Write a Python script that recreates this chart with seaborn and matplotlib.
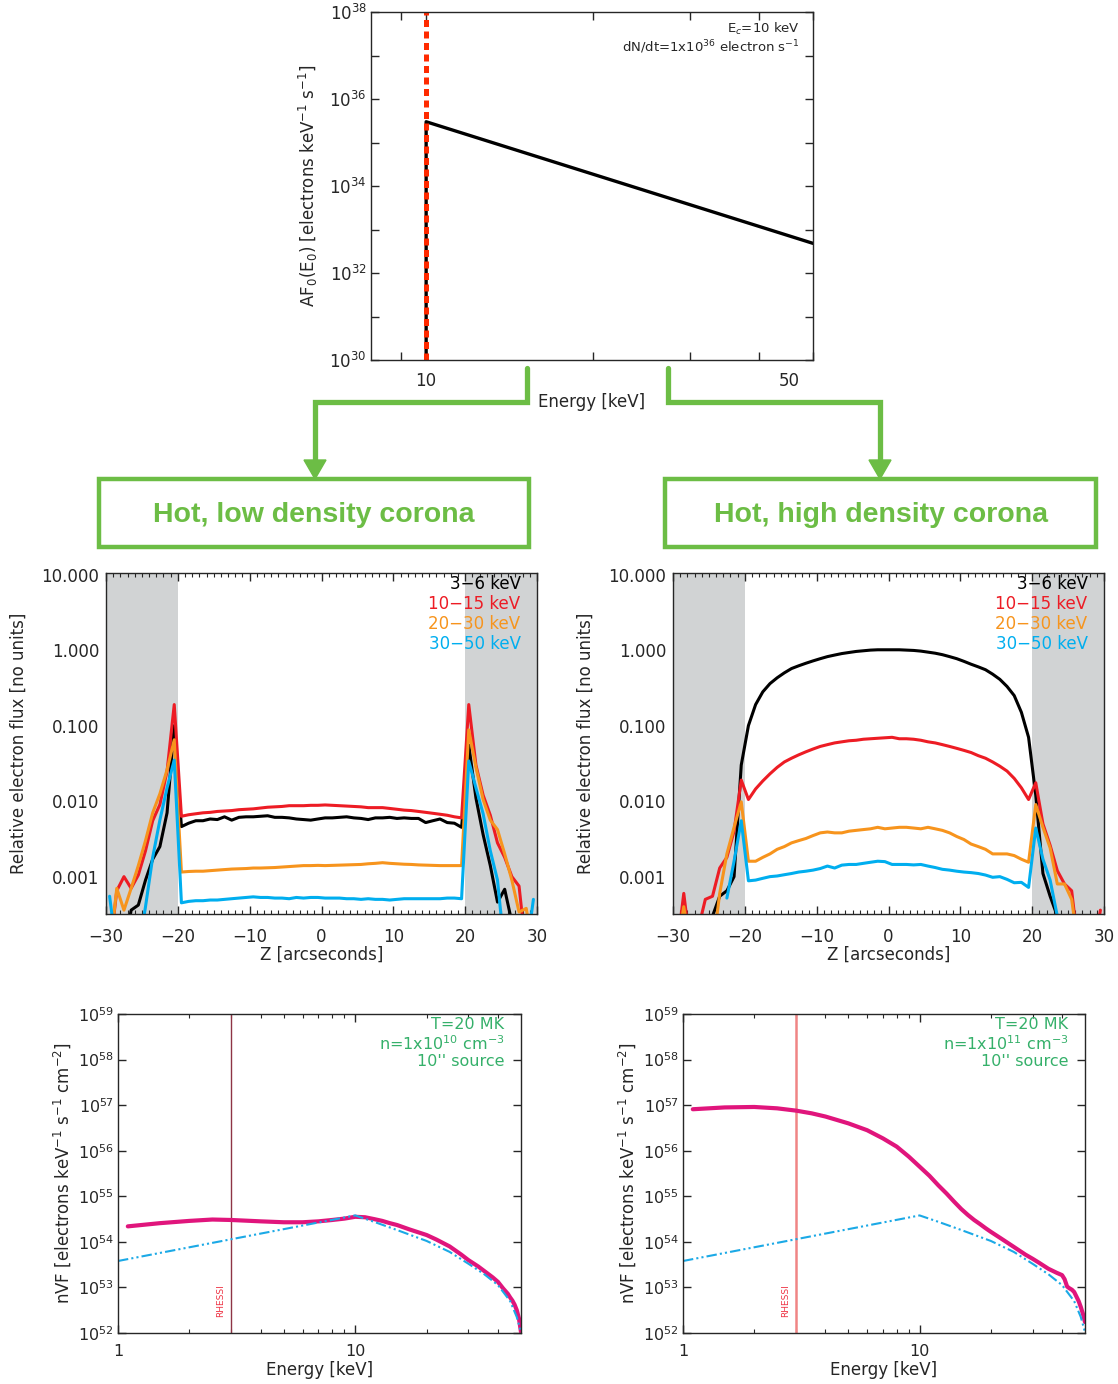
import numpy as np
import seaborn as sns
import matplotlib.pyplot as plt
from matplotlib.lines import Line2D
from matplotlib.patches import Rectangle, Polygon
from matplotlib.transforms import ScaledTranslation
from matplotlib.ticker import FixedLocator, NullFormatter, NullLocator, MultipleLocator

W, H = 1118, 1384

# ---- top panel: injected electron spectrum ----
inj_energy = [10, 10, 50]
inj_flux = [1e30, 3.0e35, 4.8e32]
cutoff_energy = [10, 10]
cutoff_flux = [1e30, 1e38]

# ---- middle panels: relative electron flux vs Z ----
z_arcsec = np.arange(-29.5, 30, 1.0)
nan = np.nan

low_3_6 = ([1e-4, 1e-4, 1e-4, 3.6e-4, 4.2e-4, 9e-4, 1.7e-3, 2.5e-3, 7e-3, 0.1]
           + [.0046, .0051, .0055, .0055, .0058, .0057, .0062, .0056, .0061, .0062,
              .0062, .0063, .0064, .0061, .0061, .0060, .0058, .0057, .0056, .0058,
              .0060, .0060, .0061, .0062, .0060, .0059, .0057, .0060, .0060, .0061,
              .0059, .0060, .0059, .0059, .0052, .0055, .0058, .0052, .0051, .0045]
           + [0.055, 0.011, 0.0036, 0.0014, 4.6e-4, 6.8e-4, 2.5e-4, 1e-4, 1e-4, 1e-4])
low_10_15 = ([1e-4, 6.5e-4, 1.0e-3, 7e-4, 1.05e-3, 2.2e-3, 5.5e-3, 9e-3, 0.025, 0.19]
             + [.0063, .0066, .0068, .0070, .0071, .0073, .0074, .0075, .0077, .0078,
                .0079, .0081, .0083, .0084, .0085, .0087, .0087, .0087, .0088, .0088,
                .0089, .0088, .0087, .0086, .0085, .0084, .0082, .0082, .0082, .0080,
                .0078, .0076, .0075, .0073, .0071, .0069, .0067, .0065, .0062, .0060]
             + [0.19, 0.03, 0.012, 0.0065, 0.0028, 0.0018, 0.001, 7.5e-4, 1e-4, 1e-4])
low_20_30 = ([1e-4, 7e-4, 3.6e-4, 7e-4, 1.4e-3, 3e-3, 7e-3, 0.0125, 0.026, 0.065]
             + [1.15e-3, 1.17e-3, 1.18e-3, 1.18e-3, 1.20e-3, 1.22e-3, 1.24e-3, 1.26e-3, 1.27e-3, 1.28e-3,
                1.30e-3, 1.30e-3, 1.31e-3, 1.32e-3, 1.34e-3, 1.36e-3, 1.38e-3, 1.40e-3, 1.40e-3, 1.41e-3,
                1.40e-3, 1.41e-3, 1.42e-3, 1.43e-3, 1.44e-3, 1.45e-3, 1.48e-3, 1.50e-3, 1.53e-3, 1.50e-3,
                1.48e-3, 1.46e-3, 1.45e-3, 1.43e-3, 1.42e-3, 1.41e-3, 1.40e-3, 1.40e-3, 1.40e-3, 1.40e-3]
             + [0.088, 0.028, 0.0105, 0.0056, 0.0042, 0.002, 9e-4, 3.4e-4, 3.8e-4, 1e-4])
low_30_50 = ([5.5e-4, 1e-4, 1e-4, 1e-4, 1e-4, 4e-4, 1.8e-3, 5.6e-3, 0.015, 0.035]
             + [4.5e-4, 4.7e-4, 4.8e-4, 4.8e-4, 4.9e-4, 4.9e-4, 5.0e-4, 5.1e-4, 5.2e-4, 5.3e-4,
                5.4e-4, 5.3e-4, 5.3e-4, 5.2e-4, 5.2e-4, 5.1e-4, 5.3e-4, 5.2e-4, 5.3e-4, 5.3e-4,
                5.2e-4, 5.2e-4, 5.2e-4, 5.1e-4, 5.1e-4, 5.0e-4, 5.1e-4, 5.0e-4, 5.0e-4, 4.9e-4,
                5.0e-4, 5.1e-4, 5.1e-4, 5.1e-4, 5.1e-4, 5.1e-4, 5.1e-4, 5.2e-4, 5.2e-4, 5.1e-4]
             + [0.034, 0.015, 0.0068, 0.0022, 9e-4, 1e-4, 1e-4, 1e-4, 1e-4, 5e-4])

high_3_6 = ([1e-4, 1e-4, 1e-4, 1e-4, 1e-4, 3e-4, 5.5e-4, 6.5e-4, 1e-3, 0.03]
            + [0.10, 0.19, 0.28, 0.36, 0.43, 0.50, 0.57, 0.62, 0.67, 0.72,
               0.77, 0.82, 0.86, 0.90, 0.93, 0.96, 0.98, 1.00, 1.01, 1.01,
               1.01, 1.01, 1.00, 0.99, 0.97, 0.94, 0.91, 0.87, 0.82, 0.77,
               0.71, 0.65, 0.60, 0.55, 0.48, 0.41, 0.33, 0.25, 0.15, 0.07]
            + [0.012, 1.1e-3, 5.5e-4, 3e-4, 1e-4, 1e-4, 1e-4, 1e-4, 1e-4, 1e-4])
high_10_15 = ([1e-4, 6e-4, 1e-4, 2e-4, 5e-4, 5.5e-4, 1.3e-3, 1.8e-3, 4e-3, 0.019]
              + [0.0105, 0.0145, 0.0185, 0.023, 0.028, 0.033, 0.037, 0.041, 0.045, 0.049,
                 0.053, 0.056, 0.059, 0.061, 0.063, 0.064, 0.066, 0.067, 0.068, 0.069,
                 0.070, 0.067, 0.067, 0.066, 0.064, 0.061, 0.059, 0.056, 0.053, 0.050,
                 0.047, 0.044, 0.040, 0.037, 0.033, 0.029, 0.025, 0.020, 0.015, 0.0105]
              + [0.0175, 5e-3, 2.6e-3, 1.2e-3, 8e-4, 6.5e-4, 1e-4, 1e-4, 1e-4, 3.6e-4])
high_20_30 = ([1e-4, 4e-4, 1e-4, 1e-4, 1e-4, 1e-4, 6e-4, 2e-3, 4.5e-3, 0.0098]
              + [1.6e-3, 1.6e-3, 1.8e-3, 2.0e-3, 2.3e-3, 2.5e-3, 2.8e-3, 3.0e-3, 3.2e-3, 3.5e-3,
                 3.8e-3, 3.9e-3, 3.8e-3, 3.8e-3, 4.0e-3, 4.1e-3, 4.2e-3, 4.3e-3, 4.5e-3, 4.3e-3,
                 4.4e-3, 4.5e-3, 4.5e-3, 4.4e-3, 4.3e-3, 4.5e-3, 4.3e-3, 4.1e-3, 3.8e-3, 3.4e-3,
                 3.1e-3, 2.7e-3, 2.5e-3, 2.3e-3, 2.0e-3, 2.0e-3, 2.0e-3, 1.9e-3, 1.7e-3, 1.55e-3]
              + [9e-3, 4.5e-3, 2.4e-3, 8e-4, 8e-4, 5e-4, 1e-4, 1e-4, 1e-4, 1e-4])
high_30_50 = ([nan, nan, nan, nan, nan, nan, nan, 5.2e-4, 1.6e-3, 5.5e-3]
              + [8.8e-4, 9.0e-4, 9.5e-4, 1.0e-3, 1.02e-3, 1.06e-3, 1.1e-3, 1.15e-3, 1.18e-3, 1.22e-3,
                 1.28e-3, 1.38e-3, 1.3e-3, 1.42e-3, 1.45e-3, 1.45e-3, 1.5e-3, 1.55e-3, 1.6e-3, 1.58e-3,
                 1.45e-3, 1.45e-3, 1.45e-3, 1.43e-3, 1.45e-3, 1.38e-3, 1.32e-3, 1.25e-3, 1.22e-3, 1.18e-3,
                 1.15e-3, 1.13e-3, 1.1e-3, 1.05e-3, 9.8e-4, 1.0e-3, 9.2e-4, 8.3e-4, 8.4e-4, 7.2e-4]
              + [4.4e-3, 1.7e-3, 9e-4, 3e-4, 1e-4, nan, nan, nan, nan, nan])

band_labels = ['3\u22126 keV', '10\u221215 keV', '20\u221230 keV', '30\u221250 keV']
band_colors = ['black', '#ED1C24', '#F7941D', '#00AEEF']

# ---- bottom panels: nVF spectra (log10 values) ----
low_tot_energy = [1.1, 1.5, 2, 2.5, 3, 4, 5, 6, 7, 8, 9, 10, 11, 12, 13, 14, 15, 17, 20, 22, 25,
                  28, 30, 33, 35, 38, 40, 42, 44, 45, 46, 47, 48, 49, 50]
low_tot_log = [54.34, 54.41, 54.46, 54.49, 54.48, 54.45, 54.43, 54.43, 54.45, 54.48, 54.51, 54.55,
               54.54, 54.50, 54.46, 54.41, 54.37, 54.27, 54.15, 54.05, 53.90,
               53.72, 53.60, 53.46, 53.36, 53.22, 53.12, 52.98, 52.86, 52.78, 52.71, 52.62, 52.50,
               52.32, 52.02]
high_tot_energy = [1.1, 1.5, 2, 2.5, 3, 3.5, 4, 5, 6, 7, 8, 9, 10, 11, 12, 13, 14, 15, 16, 17, 18,
                   19, 20, 22, 25, 28, 30, 32, 35, 38, 40, 41, 42, 43, 44, 45, 46, 47, 48, 49, 50]
high_tot_log = [56.91, 56.95, 56.96, 56.93, 56.88, 56.82, 56.75, 56.60, 56.45, 56.27, 56.09, 55.87,
                55.65, 55.45, 55.24, 55.06, 54.88, 54.72, 54.59, 54.48, 54.39,
                54.30, 54.22, 54.08, 53.89, 53.72, 53.63, 53.54, 53.41, 53.32, 53.27, 53.18, 53.02,
                52.98, 52.95, 52.90, 52.80, 52.70, 52.57, 52.42, 52.24]
nt_energy = [1, 10, 12, 15, 20, 25, 30, 35, 40, 45, 48, 50]
nt_log = [53.58, 54.58, 54.44, 54.26, 54.02, 53.78, 53.52, 53.29, 53.05, 52.70, 52.35, 52.02]
rhessi_energy = 3

sns.set_style('ticks')
plt.rcParams['font.family'] = ['DejaVu Sans']
plt.rcParams['mathtext.fontset'] = 'dejavusans'
plt.rcParams['axes.linewidth'] = 1.0

fig = plt.figure(figsize=(W / 100, H / 100), dpi=100)


def px_axes(l, t, r, b):
    return fig.add_axes([l / W, 1 - b / H, (r - l) / W, (b - t) / H])


def fx(x):
    return x / W


def fy(y):
    return 1 - y / H


# ---------------- top panel ----------------
ax0 = px_axes(371, 12, 813, 360)
ax0.set_xscale('log')
ax0.set_yscale('log')
sns.lineplot(x=inj_energy, y=inj_flux, ax=ax0, color='black', lw=2.4, sort=False, estimator=None)
sns.lineplot(x=cutoff_energy, y=cutoff_flux, ax=ax0, color='#FF2A00', lw=3.6,
             linestyle=(0, (1.4, 0.9)), sort=False, estimator=None)
ax0.set_xlim(7.95, 50)
ax0.set_ylim(1e30, 1e38)
ax0.xaxis.set_major_locator(FixedLocator([10, 50]))
ax0.set_xticklabels(['10', '50'])
ax0.xaxis.set_minor_locator(FixedLocator([9, 20, 30, 40]))
ax0.xaxis.set_minor_formatter(NullFormatter())
ax0.yaxis.set_major_locator(FixedLocator([1e30, 1e32, 1e34, 1e36, 1e38]))
ax0.set_yticklabels([r'$10^{30}$', r'$10^{32}$', r'$10^{34}$', r'$10^{36}$', r'$10^{38}$'])
ax0.yaxis.set_minor_locator(FixedLocator([1e31, 1e33, 1e35, 1e37]))
ax0.yaxis.set_minor_formatter(NullFormatter())
ax0.tick_params(which='both', direction='in', top=True, right=True, length=6, width=1)
ax0.tick_params(axis='x', pad=9, labelsize=12)
ax0.tick_params(axis='y', pad=3, labelsize=12)
lab50 = ax0.get_xticklabels()[1]
lab50.set_transform(lab50.get_transform() + ScaledTranslation(-24 / 100, 0, fig.dpi_scale_trans))
ax0.set_xlabel('Energy [keV]', fontsize=12)
ax0.xaxis.set_label_coords(0.5, -0.096)
ax0.set_ylabel(r'AF$_0$(E$_0$) [electrons keV$^{-1}$ s$^{-1}$]', fontsize=12)
ax0.yaxis.set_label_coords(-0.115, 0.5)
ax0.text(0.97, 0.975, r'E$_c$=10 keV', transform=ax0.transAxes, ha='right', va='top', fontsize=9.5)
ax0.text(0.97, 0.925, r'dN/dt=1x10$^{36}$ electron s$^{-1}$', transform=ax0.transAxes,
         ha='right', va='top', fontsize=9.5)

# ---------------- connectors and boxes ----------------
green = '#6CBD45'
for pts in ([(527, 368), (527, 402), (315, 402), (315, 463)],
            [(668, 368), (668, 402), (880, 402), (880, 463)]):
    fig.add_artist(Line2D([fx(p[0]) for p in pts], [fy(p[1]) for p in pts],
                          color=green, lw=3.8, solid_joinstyle='miter', transform=fig.transFigure))
for cx in (315, 880):
    fig.add_artist(Polygon([(fx(cx - 11), fy(460)), (fx(cx + 11), fy(460)), (fx(cx), fy(479))],
                           closed=True, color=green, transform=fig.transFigure))
for (l, r, title) in ((99, 529, 'Hot, low density corona'), (665, 1096, 'Hot, high density corona')):
    fig.add_artist(Rectangle((fx(l), fy(547)), fx(r - l), (547 - 479) / H, fill=False,
                             edgecolor=green, lw=3.2, transform=fig.transFigure))
    fig.text(fx((l + r) / 2), fy(515), title, ha='center', va='center', color=green,
             fontsize=20.5, fontweight='bold', family=['Liberation Sans', 'DejaVu Sans'])

# ---------------- middle panels ----------------
mid_sets = [(106, 537, [low_3_6, low_10_15, low_20_30, low_30_50]),
            (673, 1104, [high_3_6, high_10_15, high_20_30, high_30_50])]
for l, r, series in mid_sets:
    ax = px_axes(l, 573, r, 914)
    ax.set_yscale('log')
    ax.axvspan(-30, -20, color='#D1D3D4', lw=0, zorder=0)
    ax.axvspan(20, 30, color='#D1D3D4', lw=0, zorder=0)
    for vals, col in zip(series, band_colors):
        sns.lineplot(x=z_arcsec, y=np.array(vals, dtype=float), ax=ax, color=col, lw=2.2,
                     sort=False, estimator=None)
    ax.set_xlim(-30, 30)
    ax.set_ylim(3.2e-4, 10.5)
    ax.xaxis.set_major_locator(MultipleLocator(10))
    ax.xaxis.set_minor_locator(MultipleLocator(1))
    ax.yaxis.set_major_locator(FixedLocator([1e-3, 1e-2, 1e-1, 1, 10]))
    ax.set_yticklabels(['0.001', '0.010', '0.100', '1.000', '10.000'])
    ax.yaxis.set_minor_locator(NullLocator())
    ax.tick_params(axis='x', which='major', direction='in', top=True, length=6, width=1, pad=10, labelsize=12)
    ax.tick_params(axis='x', which='minor', direction='in', top=True, length=3, width=0.8)
    ax.tick_params(axis='y', which='both', length=0, pad=5, labelsize=12)
    ax.set_xlabel('Z [arcseconds]', fontsize=12)
    ax.xaxis.set_label_coords(0.5, -0.092)
    ax.set_ylabel('Relative electron flux [no units]', fontsize=12)
    ax.yaxis.set_label_coords(-0.182, 0.5)
    for i, (lab, col) in enumerate(zip(band_labels, band_colors)):
        ax.text(0.962, 0.968 - i * 0.059, lab, color=col, transform=ax.transAxes,
                ha='right', va='center', fontsize=12)

# ---------------- bottom panels ----------------
bot_sets = [(118, 521, low_tot_energy, low_tot_log, r'n=1x10$^{10}$ cm$^{-3}$', '#8E3445', 1.0),
            (683, 1085, high_tot_energy, high_tot_log, r'n=1x10$^{11}$ cm$^{-3}$', '#F08585', 1.8)]
for l, r, e_tot, log_tot, dens, rcol, rlw in bot_sets:
    ax = px_axes(l, 1014, r, 1333)
    ax.set_xscale('log')
    ax.set_yscale('log')
    ax.axvline(rhessi_energy, color=rcol, lw=rlw, zorder=1)
    sns.lineplot(x=e_tot, y=10 ** np.array(log_tot), ax=ax, color='#E0157C', lw=3.0,
                 sort=False, estimator=None)
    sns.lineplot(x=nt_energy, y=10 ** np.array(nt_log), ax=ax, color='#1BA9E6', lw=1.5,
                 linestyle=(0, (5, 1.5, 1, 1.5, 1, 1.5)), sort=False, estimator=None)
    ax.set_xlim(1, 50)
    ax.set_ylim(1e52, 1e59)
    ax.xaxis.set_major_locator(FixedLocator([1, 10]))
    ax.set_xticklabels(['1', '10'])
    ax.xaxis.set_minor_locator(FixedLocator([2, 3, 4, 5, 6, 7, 8, 9, 20, 30, 40]))
    ax.xaxis.set_minor_formatter(NullFormatter())
    exps = list(range(52, 60))
    ax.yaxis.set_major_locator(FixedLocator([10.0 ** e for e in exps]))
    ax.set_yticklabels([r'$10^{%d}$' % e for e in exps])
    ax.yaxis.set_minor_locator(NullLocator())
    ax.tick_params(which='major', direction='in', top=True, right=True, length=6, width=1, labelsize=11.5)
    ax.tick_params(which='minor', direction='in', top=True, right=True, length=3, width=0.8)
    ax.tick_params(axis='x', pad=8)
    ax.tick_params(axis='y', pad=3)
    ax.text(2.72, 10 ** 52.72, 'RHESSI', rotation=90, color='#EE3344', fontsize=6.5,
            ha='center', va='center')
    for i, txt in enumerate(['T=20 MK', dens, "10'' source"]):
        ax.text(0.958, 0.966 - i * 0.058, txt, color='#35B06A', transform=ax.transAxes,
                ha='right', va='center', fontsize=11.5)
    ax.set_xlabel('Energy [keV]', fontsize=12)
    ax.xaxis.set_label_coords(0.5, -0.088)
    ax.set_ylabel(r'nVF [electrons keV$^{-1}$ s$^{-1}$ cm$^{-2}$]', fontsize=12)
    ax.yaxis.set_label_coords(-0.112, 0.5)

fig.savefig('out.png', dpi=100)
